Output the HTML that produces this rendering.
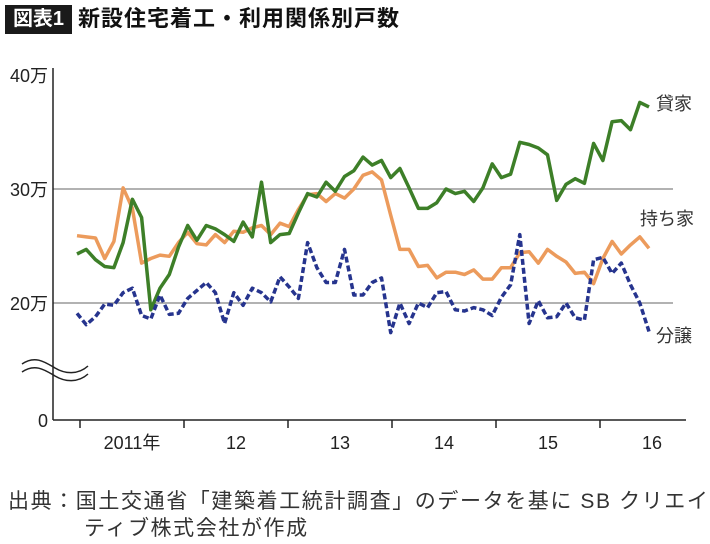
<!DOCTYPE html>
<html><head><meta charset="utf-8">
<style>
html,body{margin:0;padding:0;background:#fff;width:710px;height:544px;overflow:hidden}
body{font-family:"Liberation Sans","Noto Sans CJK JP",sans-serif;position:relative}
#title-badge{position:absolute;left:5px;top:5px;width:67px;height:29px;background:#1a1a1a;color:#fff;font-weight:bold;font-size:20px;line-height:29px;text-align:center}
#title{position:absolute;left:78px;top:4px;font-size:22px;font-weight:bold;color:#111;line-height:30px;letter-spacing:1px}
.src{position:absolute;font-size:21px;color:#333;line-height:26px;white-space:nowrap;letter-spacing:1.6px}
svg{position:absolute;left:0;top:0}
</style></head><body>
<div id="title-badge">図表1</div>
<div id="title">新設住宅着工・利用関係別戸数</div>
<div class="src" style="left:8px;top:489px">出典：国土交通省「建築着工統計調査」のデータを基に SB クリエイ</div>
<div class="src" style="left:84px;top:516px">ティブ株式会社が作成</div>
<svg id="chart" width="710" height="544"></svg>
<script>
const yTickValues=[40,30,20];
const yTickLabels=["40万","30万","20万"];
const gridValues=[30,20];
const yearLabels=["2011年","12","13","14","15","16"];
const rental=[24.3,24.7,23.8,23.2,23.1,25.3,29.1,27.5,19.4,21.3,22.5,24.9,26.8,25.5,26.8,26.5,26.0,25.4,27.1,25.8,30.6,
25.3,26.0,26.1,27.9,29.6,29.3,30.6,29.8,31.1,31.6,32.8,32.1,32.5,31.0,31.8,30.1,28.3,28.3,
28.8,30.0,29.6,29.8,28.9,30.1,32.2,31.0,31.3,34.1,33.9,33.6,33.0,29.0,30.4,30.9,30.5,34.0,32.5,35.9,36.0,35.2,37.6,37.2];
const owned=[25.9,25.8,25.7,23.9,25.4,30.1,28.3,23.5,23.9,24.2,24.1,25.3,26.2,25.2,25.1,26.0,25.3,26.3,26.2,26.6,26.8,26.0,
27.0,26.7,28.2,29.5,29.6,28.9,29.6,29.2,30.0,31.2,31.5,30.8,27.7,24.7,24.7,23.2,23.3,22.2,22.7,22.7,22.5,
22.9,22.1,22.1,23.1,23.1,24.4,24.5,23.5,24.7,24.1,23.6,22.6,22.7,21.7,23.9,25.4,24.3,25.1,25.8,24.8];
const forsale=[19.1,18.1,18.8,19.9,19.8,20.9,21.3,18.9,18.6,20.7,19.0,19.1,20.4,21.1,21.8,20.9,18.2,20.9,19.8,21.3,20.9,20.1,22.3,21.4,20.4,25.3,23.1,21.8,21.8,24.7,20.7,20.7,21.8,
22.2,17.4,20.0,18.2,20.0,19.6,20.9,
21.0,19.4,19.3,19.6,19.4,18.9,20.5,21.6,26.0,18.2,20.2,18.7,18.8,20.0,18.7,18.5,23.8,24.0,22.6,23.5,21.6,20.0,17.5];
const seriesNames=["貸家","持ち家","分譲"];

const NS="http://www.w3.org/2000/svg";
const svg=document.getElementById('chart');
function yS(v){return 189-(v-30)*11.4;}
const nPts=63;
function xS(i){return 77+i*(649-77)/(nPts-1);}
function mk(tag,attrs,parent){const e=document.createElementNS(NS,tag);for(const k in attrs)e.setAttribute(k,attrs[k]);(parent||svg).appendChild(e);return e;}

gridValues.forEach(v=>{
  const l=mk('line',{x1:53,x2:673,y1:yS(v),y2:yS(v),stroke:'#999','stroke-width':1.5});
  
  
});
yTickValues.forEach((v,i)=>{
  const t=mk('text',{x:48,y:yS(v)+7,'text-anchor':'end','font-size':18,fill:'#222','font-family':'Liberation Sans, Noto Sans CJK JP, sans-serif'});
  t.textContent=yTickLabels[i];
  
  
});
const z=mk('text',{x:48,y:427,'text-anchor':'end','font-size':18,fill:'#222'});
z.textContent="0";



const ya=mk('line',{x1:53,x2:53,y1:68,y2:420,stroke:'#222','stroke-width':1.5});


const xa=mk('line',{x1:53,x2:686,y1:420,y2:420,stroke:'#222','stroke-width':1.5});


const brk=mk('path',{d:'M22,364 C35,355 45,362 55,368 C65,374 78,375 88,366 M22,372 C35,363 45,370 55,376 C65,382 78,383 88,374',fill:'none',stroke:'#222','stroke-width':1.5});



yearLabels.forEach((lab,k)=>{
  const tx=80+k*104;
  const tk=mk('line',{x1:tx,x2:tx,y1:420,y2:428,stroke:'#222','stroke-width':1.5});
  
  
  const t=mk('text',{x:tx+52,y:449,'text-anchor':'middle','font-size':18,fill:'#222'});
  t.textContent=lab;
  
  
});

function drawLine(data,color,dash,name){
  const d=data.map((v,i)=>(i?'L':'M')+xS(i).toFixed(1)+','+yS(v).toFixed(1)).join(' ');
  const p=mk('path',{d:d,fill:'none',stroke:color,'stroke-width':3.5,'stroke-linejoin':'round'});
  if(dash)p.setAttribute('stroke-dasharray',dash);
  
  
}
drawLine(owned,'#ec9b5c',null,'series-owned-line');
drawLine(rental,'#3d7f28',null,'series-rental-line');
drawLine(forsale,'#26348e','6,3','series-forsale-line');

const labs=[[seriesNames[0],656,110],[seriesNames[1],640,225],[seriesNames[2],656,342]];
labs.forEach((l,i)=>{
  const t=mk('text',{x:l[1],y:l[2],'font-size':18,fill:'#333'});
  t.textContent=l[0];
  
  
});
</script>
</body></html>
